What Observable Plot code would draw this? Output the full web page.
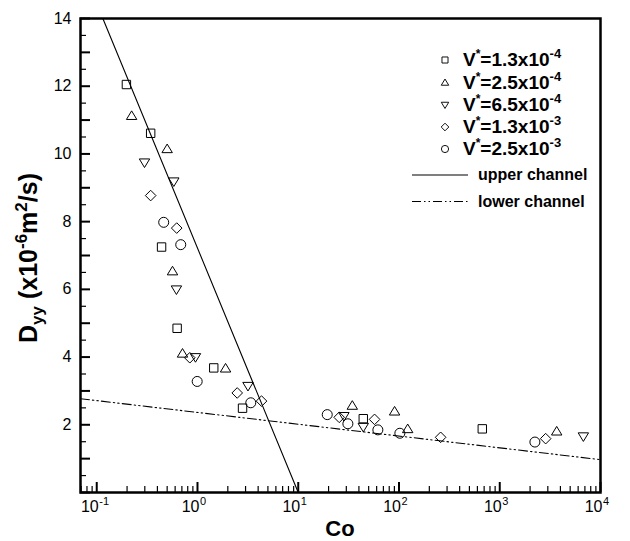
<!DOCTYPE html>
<html><head><meta charset="utf-8">
<script src="https://cdn.jsdelivr.net/npm/d3@7"></script>
<script src="https://cdn.jsdelivr.net/npm/@observablehq/plot@0.6"></script>
<style>
html,body{margin:0;padding:0;background:#fff;}
#chart{width:630px;height:541px;}
svg{font-family:"Liberation Sans",Arial,Helvetica,sans-serif;}
</style>
</head><body><div id="chart"></div>
<script>
// ---- data ----
const seriesMantissa = ["1.3", "2.5", "6.5", "1.3", "2.5"];
const seriesExponent = ["-4", "-4", "-4", "-3", "-3"];

const coS1 = [0.197, 0.343, 0.44, 0.628, 1.45, 2.80, 44.2, 671];
const dS1  = [12.05, 10.61, 7.25, 4.85, 3.68, 2.49, 2.18, 1.88];

const coS2 = [0.222, 0.50, 0.565, 0.71, 1.90, 34.4, 90.4, 122, 3675];
const dS2  = [11.13, 10.15, 6.54, 4.11, 3.67, 2.57, 2.40, 1.88, 1.81];

const coS3 = [0.298, 0.582, 0.618, 0.955, 3.17, 28.4, 44.2, 6761];
const dS3  = [9.74, 9.18, 5.99, 3.99, 3.14, 2.25, 1.93, 1.65];

const coS4 = [0.343, 0.622, 0.839, 2.48, 4.32, 25.5, 57.2, 259, 2856];
const dS4  = [8.77, 7.81, 3.98, 2.94, 2.70, 2.22, 2.16, 1.63, 1.59];

const coS5 = [0.462, 0.682, 0.993, 3.38, 19.4, 31.1, 61.7, 102, 2233];
const dS5  = [7.98, 7.32, 3.28, 2.65, 2.30, 2.03, 1.85, 1.75, 1.49];

const upperCo = [0.115, 10];
const upperD  = [14, 0];
const lowerCo = [0.069, 10000];
const lowerD  = [2.77, 0.97];

const xDomain = [0.069, 10000];
const yDomain = [0, 14];
const xMajorTicks = [0.1, 1, 10, 100, 1000, 10000];
const xTickExps = ["-1", "0", "1", "2", "3", "4"];
const yMajorTicks = [2, 4, 6, 8, 10, 12, 14];
const yTickLabels = ["2", "4", "6", "8", "10", "12", "14"];
const lineLabels = ["upper channel", "lower channel"];

// ---- symbols ----
const symSquare = {draw(c){const s=4.2;c.moveTo(-s,-s);c.lineTo(s,-s);c.lineTo(s,s);c.lineTo(-s,s);c.closePath();}};
const symTriUp = {draw(c){c.moveTo(0,-4.8);c.lineTo(5.2,3.8);c.lineTo(-5.2,3.8);c.closePath();}};
const symTriDown = {draw(c){c.moveTo(0,4.8);c.lineTo(5.2,-3.8);c.lineTo(-5.2,-3.8);c.closePath();}};
const symDiamond = {draw(c){const s=5.3;c.moveTo(0,-s);c.lineTo(s,0);c.lineTo(0,s);c.lineTo(-s,0);c.closePath();}};
const symCircle = {draw(c){c.moveTo(5,0);c.arc(0,0,5,0,2*Math.PI);c.closePath();}};
const seriesSymbols = [symSquare, symTriUp, symTriDown, symDiamond, symCircle];

const seriesCo = [coS1, coS2, coS3, coS4, coS5];
const seriesD = [dS1, dS2, dS3, dS4, dS5];
const seriesData = seriesCo.map((cs, i) => cs.map((c, j) => ({co: c, d: seriesD[i][j]})));
const upperData = upperCo.map((c, i) => ({co: c, d: upperD[i]}));
const lowerData = lowerCo.map((c, i) => ({co: c, d: lowerD[i]}));

const W = 630, H = 541;
const mL = 80, mR = 30, mT = 18, mB = 49;
const fw = W - mL - mR, fh = H - mT - mB;

const allXTicks = d3.scaleLog().domain(xDomain).ticks();
const xMinor = allXTicks.filter(t => !xMajorTicks.some(m => Math.abs(m - t) / m < 1e-9));
const yMinor = d3.range(0.5, 14, 1);
const yMajorAll = d3.range(0, 14.01, 1).filter(v => !yMajorTicks.includes(v)).concat(yMajorTicks);

const chart = Plot.plot({
  width: W, height: H,
  marginLeft: mL, marginRight: mR, marginTop: mT, marginBottom: mB,
  style: {fontFamily: "Liberation Sans, Arial, sans-serif", background: "white", color: "black"},
  x: {type: "log", domain: xDomain, axis: null},
  y: {domain: yDomain, axis: null},
  marks: [
    Plot.line(upperData, {x: "co", y: "d", stroke: "black", strokeWidth: 1.1}),
    Plot.line(lowerData, {x: "co", y: "d", stroke: "black", strokeWidth: 1.1, strokeDasharray: "9,3,1.5,3,1.5,3"}),
    ...seriesData.map((data, i) => Plot.dot(data, {x: "co", y: "d", symbol: seriesSymbols[i], fill: "none", stroke: "black", strokeWidth: 1})),
    // ticks (inward)
    Plot.tickY(yMinor, {y: d => d, insetRight: fw - 6, stroke: "black", strokeWidth: 1.2}),
    Plot.tickY(yMajorAll, {y: d => d, insetRight: fw - 10, stroke: "black", strokeWidth: 2}),
    Plot.tickX(xMinor, {x: d => d, insetTop: fh - 6, stroke: "black", strokeWidth: 1.2}),
    Plot.tickX(xMajorTicks, {x: d => d, insetTop: fh - 10, stroke: "black", strokeWidth: 2}),
    // tick labels
    Plot.text(yMajorTicks, {y: d => d, text: (d, i) => yTickLabels[i], frameAnchor: "left", dx: -9, textAnchor: "end", fontSize: 16, fill: "black"}),
    Plot.text(xMajorTicks, {x: d => d, text: () => "10", frameAnchor: "bottom", dy: 19, dx: 2, textAnchor: "end", fontSize: 16, fill: "black"}),
    Plot.text(xMajorTicks, {x: d => d, text: (d, i) => xTickExps[i], frameAnchor: "bottom", dy: 12, dx: 2.5, textAnchor: "start", fontSize: 11, fill: "black"}),
    Plot.frame({stroke: "black", strokeWidth: 2.5})
  ]
});
document.getElementById("chart").appendChild(chart);

const svg = d3.select(chart);
// x title
svg.append("text").attr("x", mL + fw / 2).attr("y", 536).attr("text-anchor", "middle")
  .attr("font-weight", "bold").attr("font-size", 22).text("Co");
// y title
const yl = svg.append("text").attr("transform", "translate(37,258) rotate(-90)")
  .attr("text-anchor", "middle").attr("font-weight", "bold").attr("font-size", 25);
yl.append("tspan").text("D");
yl.append("tspan").attr("dy", 6).attr("font-size", 17).text("yy");
yl.append("tspan").attr("dy", -6).text(" (x10");
yl.append("tspan").attr("dy", -10).attr("font-size", 17).text("-6");
yl.append("tspan").attr("dy", 10).text("m");
yl.append("tspan").attr("dy", -10).attr("font-size", 17).text("2");
yl.append("tspan").attr("dy", 10).text("/s)");

// legend
const lg = svg.append("g").attr("text-anchor", "start");
const rowY = [60, 82.5, 105, 127, 149];
seriesMantissa.forEach((m, i) => {
  const p = d3.path(); seriesSymbols[i].draw(p);
  lg.append("path").attr("transform", `translate(445,${rowY[i]}) scale(0.72)`).attr("d", p.toString())
    .attr("fill", "none").attr("stroke", "black").attr("stroke-width", 1.3);
  const t = lg.append("text").attr("x", 463).attr("y", rowY[i] + 6).attr("text-anchor", "start")
    .attr("font-weight", "bold").attr("font-size", 19);
  t.append("tspan").text("V");
  t.append("tspan").attr("dy", -8).attr("font-size", 12).text("*");
  t.append("tspan").attr("dy", 8).text("=" + m + "x10");
  t.append("tspan").attr("dy", -8).attr("font-size", 13).text(seriesExponent[i]);
});
const lineY = [175, 201.5];
const lineDash = [null, "9,3,1.5,3,1.5,3"];
lineLabels.forEach((lab, i) => {
  const l = lg.append("line").attr("x1", 412).attr("x2", 468).attr("y1", lineY[i]).attr("y2", lineY[i])
    .attr("stroke", "black").attr("stroke-width", 1.1);
  if (lineDash[i]) l.attr("stroke-dasharray", lineDash[i]);
  lg.append("text").attr("x", 478).attr("y", lineY[i] + 5).attr("text-anchor", "start")
    .attr("font-weight", "bold").attr("font-size", 16).text(lab);
});
</script>
</body></html>
